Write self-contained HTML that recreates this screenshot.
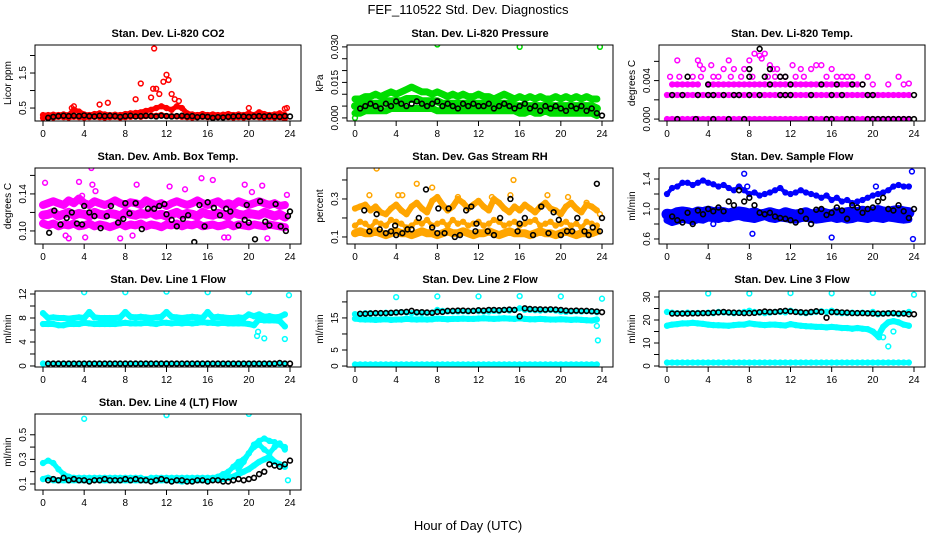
<!DOCTYPE html>
<html><head><meta charset="utf-8">
<style>
html,body{margin:0;padding:0;background:#fff;}
svg{display:block;font-family:"Liberation Sans",sans-serif;}
</style></head>
<body>
<svg id="chart" width="936" height="540" viewBox="0 0 936 540" xmlns="http://www.w3.org/2000/svg">
<rect x="0" y="0" width="936" height="540" fill="#fff"/>
<text x="468" y="14" font-size="13" text-anchor="middle">FEF_110522  Std. Dev. Diagnostics</text>
<text x="468" y="530" font-size="13" text-anchor="middle">Hour of Day (UTC)</text>
</svg>
<script>
const H = [0,0.5,1,1.5,2,2.5,3,3.5,4,4.5,5,5.5,6,6.5,7,7.5,8,8.5,9,9.5,10,10.5,11,11.5,12,12.5,13,13.5,14,14.5,15,15.5,16,16.5,17,17.5,18,18.5,19,19.5,20,20.5,21,21.5,22,22.5,23,23.5];
const HB = [0.5,1,1.5,2,2.5,3,3.5,4,4.5,5,5.5,6,6.5,7,7.5,8,8.5,9,9.5,10,10.5,11,11.5,12,12.5,13,13.5,14,14.5,15,15.5,16,16.5,17,17.5,18,18.5,19,19.5,20,20.5,21,21.5,22,22.5,23,23.5,24];
const xTicks = [0,4,8,12,16,20,24];

// Panel 1 CO2
const p1Red = [0.3,0.3,0.31,0.3,0.32,0.3,0.45,0.4,0.32,0.3,0.33,0.35,0.32,0.3,0.31,0.3,0.33,0.35,0.36,0.38,0.42,0.45,0.5,0.55,0.5,0.45,0.55,0.5,0.35,0.32,0.3,0.33,0.3,0.32,0.3,0.31,0.33,0.3,0.32,0.3,0.35,0.3,0.38,0.33,0.3,0.32,0.35,0.3];
const p1RedLow = [0.22,0.24,0.23,0.25,0.24,0.23,0.25,0.24,0.23,0.24,0.25,0.24,0.23,0.24,0.25,0.23,0.24,0.25,0.26,0.25,0.27,0.28,0.28,0.3,0.27,0.27,0.26,0.25,0.24,0.23,0.24,0.25,0.24,0.23,0.24,0.25,0.24,0.23,0.24,0.23,0.24,0.25,0.24,0.23,0.24,0.23,0.24,0.2];
const p1OutT = [2.8,3,5.5,6.3,9,9.5,10.5,10.7,10.8,11,11.3,11.7,12,12.2,12.5,12.8,13.2,20,23.5,23.7];
const p1OutV = [0.5,0.55,0.6,0.65,0.75,1.2,0.8,1.05,2.2,1.05,0.9,1.25,1.45,1.3,0.9,0.75,0.7,0.5,0.48,0.5];
const p1Black = [0.22,0.25,0.27,0.28,0.27,0.28,0.27,0.29,0.27,0.26,0.28,0.27,0.28,0.27,0.25,0.27,0.28,0.26,0.27,0.28,0.27,0.26,0.28,0.27,0.26,0.27,0.28,0.26,0.27,0.24,0.26,0.25,0.22,0.24,0.23,0.25,0.26,0.27,0.26,0.25,0.26,0.27,0.26,0.27,0.26,0.25,0.27,0.26];
const p1Ticks = [0.5,1,1.5,2];
const p1Labels = ["0.5","","1.5",""];

// Panel 2 pressure
const p2Hi = [0.008,0.008,0.009,0.009,0.01,0.009,0.01,0.011,0.01,0.011,0.012,0.013,0.012,0.011,0.011,0.01,0.011,0.01,0.009,0.01,0.009,0.01,0.009,0.009,0.01,0.009,0.009,0.008,0.009,0.01,0.009,0.008,0.009,0.008,0.009,0.008,0.009,0.008,0.008,0.009,0.008,0.009,0.008,0.009,0.008,0.009,0.008,0.008];
const p2Mid = [0.005,0.005,0.006,0.006,0.006,0.006,0.007,0.007,0.007,0.007,0.008,0.008,0.008,0.007,0.007,0.007,0.007,0.006,0.006,0.006,0.006,0.006,0.006,0.006,0.006,0.006,0.006,0.005,0.006,0.006,0.006,0.005,0.005,0.005,0.005,0.005,0.005,0.005,0.005,0.005,0.005,0.005,0.005,0.005,0.005,0.005,0.005,0.004];
const p2Lo = [0.002,0.002,0.003,0.003,0.003,0.003,0.003,0.004,0.004,0.004,0.004,0.004,0.004,0.004,0.004,0.004,0.003,0.003,0.003,0.003,0.003,0.003,0.003,0.003,0.003,0.003,0.003,0.003,0.003,0.003,0.003,0.003,0.002,0.002,0.003,0.002,0.002,0.003,0.002,0.002,0.002,0.002,0.002,0.002,0.002,0.002,0.002,0.001];
const p2OutT = [0,8,16,23.8];
const p2OutV = [0.0,0.031,0.030,0.030];
const p2Black = [0.004,0.005,0.006,0.005,0.004,0.006,0.005,0.007,0.006,0.005,0.006,0.007,0.006,0.005,0.006,0.007,0.005,0.006,0.005,0.004,0.006,0.005,0.006,0.005,0.005,0.006,0.004,0.005,0.006,0.005,0.004,0.005,0.006,0.004,0.005,0.003,0.005,0.004,0.005,0.004,0.003,0.005,0.004,0.005,0.003,0.004,0.002,0.001];
const p2Ticks = [0,0.005,0.01,0.015,0.02,0.025,0.03];
const p2Labels = ["0.000","","","0.015","","","0.030"];

// Panel 3 Li-820 temp
const p3Row1 = [0,0,0,0,0,0,0,0,0,0,0,0,0,0,0,0,0,0,0,0,0,0,0,0,0,0,0,0,0,0,0,0,0,0,0,0,0,0,0,0,0,0,0,0,0,0,0,0];
const p3Row2 = [0.0025,0.0025,0.0025,0.0025,0.0025,0.0025,0.0025,0.0025,0.0025,0.0025,0.0025,0.0025,0.0025,0.0025,0.0025,0.0025,0.0025,0.0025,0.0025,0.0025,0.0025,0.0025,0.0025,0.0025,0.0025,0.0025,0.0025,0.0025,0.0025,0.0025,0.0025,0.0025,0.0025,0.0025,0.0025,0.0025,0.0025,0.0025,0.0025,0.0025,0.0025,0.0025,0.0025,0.0025,0.0025,0.0025,0.0025,0.0025];
const p3Row3 = [null,0.0036,0.0036,0.0036,0.0036,0.0036,0.0036,null,0.0036,0.0036,0.0036,0.0036,0.0036,0.0036,0.0036,0.0036,0.0036,0.0036,0.0036,0.0036,0.0036,0.0036,0.0036,0.0036,0.0036,0.0036,0.0036,0.0036,0.0036,0.0036,0.0036,0.0036,0.0036,0.0036,0.0036,0.0036,0.0036,0.0036,null,null,null,null,null,null,null,null,null,null];
const p3UpT = [0.3,1,2.5,3,3.2,3.5,4.3,5,5.5,6,6.5,7.5,8,8.5,9,9.2,9.5,10,10.3,10.7,11.5,12.2,13,14,14.5,15,16,17,18,19.5,22.5,23.5,1.2,3.3,4.5,6.2,7.2,8.3,9.8,10.5,11,12.5,13.3,15.5,16.5,17.5,19,20,21.5,23];
const p3UpV = [0.0044,0.0061,0.0044,0.0061,0.0056,0.0052,0.0056,0.0044,0.0052,0.0061,0.0052,0.0052,0.0061,0.0068,0.0066,0.0063,0.0068,0.0056,0.0052,0.0052,0.0044,0.0056,0.0052,0.0052,0.0056,0.0056,0.0052,0.0044,0.0044,0.0044,0.0044,0.0037,0.0044,0.0044,0.0044,0.0044,0.0044,0.0044,0.0044,0.0044,0.0044,0.0044,0.0044,0.0044,0.0044,0.0044,0.0036,0.0036,0.0036,0.0036];
const p3BlkT = [1,2.8,4.5,6,7.5,14,15.5,16,17.5,18,19.5,20,20.5,21,21.5,22,22.5,23,23.5,24,0.5,1.5,3,4,4.5,5.5,6.5,7,8,9,11,11.5,12,14,16,17,19.5,20,24,4,10,12,15,16.5,18,19,2,8,9.5,11.5,11,8,10,9];
const p3BlkV = [0,0,0,0,0,0,0,0,0,0,0,0,0,0,0,0,0,0,0,0,0.0025,0.0025,0.0025,0.0025,0.0025,0.0025,0.0025,0.0025,0.0025,0.0025,0.0025,0.0025,0.0025,0.0025,0.0025,0.0025,0.0025,0.0025,0.0025,0.0036,0.0036,0.0036,0.0036,0.0036,0.0036,0.0036,0.0044,0.0044,0.0044,0.0044,0.0044,0.0052,0.0052,0.0073];
const p3Ticks = [0,0.002,0.004,0.006];
const p3Labels = ["0.000","","0.004",""];

// Panel 4 Amb box temp
const p4Hi = [0.128,0.13,0.132,0.13,0.128,0.133,0.13,0.135,0.13,0.128,0.132,0.13,0.128,0.13,0.133,0.13,0.128,0.131,0.13,0.128,0.133,0.13,0.128,0.13,0.127,0.13,0.132,0.13,0.128,0.13,0.133,0.13,0.128,0.13,0.132,0.128,0.13,0.128,0.132,0.13,0.128,0.13,0.132,0.13,0.128,0.13,0.127,0.128];
const p4Mid = [0.117,0.118,0.12,0.116,0.118,0.12,0.117,0.119,0.118,0.116,0.12,0.118,0.117,0.119,0.118,0.116,0.12,0.118,0.117,0.119,0.118,0.12,0.117,0.118,0.116,0.118,0.12,0.117,0.119,0.118,0.116,0.12,0.118,0.117,0.119,0.118,0.116,0.12,0.118,0.117,0.119,0.118,0.117,0.12,0.118,0.116,0.118,0.115];
const p4Lo = [0.108,0.106,0.108,0.105,0.107,0.106,0.108,0.105,0.106,0.108,0.105,0.107,0.106,0.104,0.106,0.108,0.105,0.107,0.106,0.108,0.105,0.107,0.106,0.104,0.107,0.106,0.108,0.105,0.107,0.106,0.108,0.105,0.106,0.107,0.105,0.106,0.108,0.105,0.107,0.106,0.105,0.107,0.106,0.105,0.107,0.106,0.105,0.104];
const p4OutT = [0.2,2.2,2.5,3.5,4.1,4.7,4.8,5.1,8.7,9.1,12.3,13.8,15.4,16.5,17.6,18,19.6,20.3,21.3,21.8,23.7,7.5,3.8];
const p4OutV = [0.152,0.095,0.092,0.153,0.093,0.168,0.15,0.143,0.095,0.15,0.148,0.145,0.157,0.155,0.093,0.093,0.15,0.142,0.149,0.092,0.139,0.092,0.138];
const p4BlkT = [0.6,1.1,1.7,2.3,2.8,3.3,3.8,4,4.5,5,5.6,6.2,6.6,7.3,7.8,8,8.4,9,9.6,10.2,10.8,11.3,11.8,12,12.5,13,13.6,14.1,14.7,15.2,15.7,16,16.6,17.2,17.8,18.2,19,19.6,19.8,20,20.6,21.1,21.6,22,22.6,23.1,23.6,23.8,24];
const p4BlkV = [0.098,0.122,0.107,0.114,0.12,0.108,0.107,0.127,0.12,0.116,0.103,0.116,0.127,0.109,0.113,0.13,0.119,0.13,0.102,0.124,0.124,0.127,0.129,0.118,0.112,0.105,0.113,0.117,0.088,0.128,0.105,0.131,0.125,0.117,0.124,0.121,0.106,0.112,0.128,0.109,0.091,0.132,0.11,0.106,0.129,0.105,0.1,0.116,0.121];
const p4Ticks = [0.10,0.12,0.14,0.16];
const p4Labels = ["0.10","","0.14",""];

// Panel 5 RH
const p5Lo = [0.12,0.13,0.12,0.12,0.13,0.12,0.11,0.12,0.13,0.12,0.12,0.11,0.12,0.13,0.12,0.12,0.11,0.12,0.13,0.12,0.12,0.13,0.12,0.11,0.12,0.12,0.13,0.12,0.11,0.12,0.13,0.12,0.12,0.12,0.11,0.12,0.13,0.12,0.12,0.11,0.12,0.13,0.12,0.11,0.12,0.12,0.12,0.13];
const p5Mid = [0.16,0.18,0.17,0.15,0.18,0.17,0.16,0.19,0.18,0.17,0.15,0.16,0.18,0.17,0.19,0.16,0.17,0.18,0.16,0.19,0.17,0.18,0.16,0.17,0.18,0.16,0.17,0.19,0.18,0.16,0.17,0.18,0.16,0.17,0.18,0.19,0.16,0.17,0.18,0.16,0.17,0.18,0.16,0.17,0.15,0.18,0.17,0.16];
const p5Hi = [0.25,0.26,0.27,0.24,0.26,0.23,0.22,0.25,0.27,0.24,0.22,0.26,0.28,0.25,0.23,0.29,0.31,0.27,0.24,0.26,0.3,0.28,0.25,0.27,0.29,0.26,0.24,0.3,0.28,0.25,0.23,0.26,0.24,0.27,0.25,0.23,0.26,0.28,0.25,0.24,0.22,0.26,0.28,0.25,0.23,0.27,0.26,0.24];
const p5OutT = [2.1,1.4,4.2,4.6,6,7.5,10,13.3,15.1,15.4,18.7,20.7,22.5,23.8];
const p5OutV = [0.46,0.32,0.32,0.32,0.38,0.36,0.31,0.31,0.32,0.4,0.32,0.31,0.28,0.22];
const p5BlkT = [0.9,1.4,2.1,2.4,3,3.5,3.9,4,4.6,5.1,5.5,6.2,6.9,7.5,8,8.1,8.7,9.1,9.7,10.2,10.8,11.3,11.7,11.8,12.9,13.5,14.1,15.1,15.8,16,16.5,17.3,18.1,18.8,19.3,19.8,20,20.6,21.1,21.6,22.3,22.7,23.1,23.5,23.8,24];
const p5BlkV = [0.24,0.13,0.22,0.14,0.12,0.13,0.16,0.11,0.12,0.14,0.14,0.2,0.35,0.15,0.12,0.25,0.12,0.25,0.1,0.11,0.24,0.26,0.13,0.17,0.13,0.11,0.2,0.3,0.13,0.17,0.2,0.11,0.26,0.12,0.23,0.19,0.11,0.13,0.13,0.2,0.13,0.11,0.15,0.38,0.13,0.2];
const p5Ticks = [0.1,0.2,0.3,0.4];
const p5Labels = ["0.1","","0.3",""];

// Panel 6 Sample flow
const p6Hi = [1.2,1.28,1.3,1.35,1.35,1.32,1.35,1.38,1.35,1.33,1.3,1.32,1.28,1.25,1.3,1.25,1.2,1.22,1.18,1.2,1.22,1.25,1.28,1.22,1.2,1.22,1.25,1.22,1.2,1.18,1.15,1.18,1.12,1.15,1.1,1.12,1.08,1.1,1.12,1.15,1.18,1.2,1.22,1.25,1.3,1.32,1.3,1.3];
const p6Mid = [0.93,0.92,0.95,0.96,0.95,0.93,0.96,0.95,0.97,0.95,0.96,0.95,0.93,0.95,0.96,0.95,0.93,0.95,0.92,0.93,0.95,0.93,0.92,0.95,0.93,0.92,0.93,0.95,0.92,0.93,0.95,0.93,0.92,0.95,0.93,0.95,0.96,0.95,0.97,0.95,0.96,0.98,0.96,0.95,0.97,0.98,0.96,0.95];
const p6Lo = [0.85,0.82,0.84,0.86,0.85,0.83,0.86,0.85,0.88,0.87,0.86,0.88,0.87,0.89,0.9,0.88,0.87,0.86,0.88,0.9,0.87,0.86,0.88,0.87,0.86,0.85,0.87,0.88,0.86,0.85,0.86,0.87,0.88,0.86,0.87,0.85,0.86,0.88,0.87,0.86,0.88,0.87,0.86,0.88,0.87,0.86,0.85,0.86];
const p6OutT = [7.5,7.8,16,20.3,23.8,23.9,8.3,4.5];
const p6OutV = [1.47,1.3,0.62,1.3,1.5,0.6,0.67,0.8];
const p6Black = [0.9,0.85,0.82,0.95,0.8,0.98,0.93,1.0,0.97,1.02,0.97,1.1,1.05,1.25,1.1,1.15,1.05,0.95,0.93,0.95,0.9,0.88,0.87,0.85,0.82,0.97,0.87,0.8,0.99,1.0,0.92,0.95,1.02,0.98,0.87,1.05,1.02,0.95,1.0,1.02,1.1,1.15,1.0,0.98,1.05,0.97,0.88,1.0];
const p6Ticks = [0.6,0.8,1.0,1.2,1.4];
const p6Labels = ["0.6","","1.0","","1.4"];

// Panel 7 Line 1 flow
const p7Hi = [8.8,8,8.1,8,8,7.9,8,8.1,8,9,8.1,8,8,8,8,8.1,9,8.2,8.1,8.2,8.1,8,8.1,8.2,9,8.2,8.1,8,8.1,8.2,8.1,8,9,8.1,8.2,8.1,8,8,8.1,8,8.6,8.3,8.6,8.2,8.3,8.1,8.2,8.6];
const p7Lo = [7,7,7,6.8,6.8,7,7,7,7.2,7.1,7,7,7,7,7,7.1,7.2,7.1,7.1,7.1,7.2,7.1,7,7.2,7.2,7.1,7.2,7.1,7.2,7.1,7.2,7.3,7.2,7.2,7.1,7.2,7.1,7.1,7.1,7.1,7,6.8,7.8,7.6,7.6,7.6,7.5,6.6];
const p7Zero = [0.4,0.4,0.4,0.4,0.4,0.4,0.4,0.4,0.4,0.4,0.4,0.4,0.4,0.4,0.4,0.4,0.4,0.4,0.4,0.4,0.4,0.4,0.4,0.4,0.4,0.4,0.4,0.4,0.4,0.4,0.4,0.4,0.4,0.4,0.4,0.4,0.4,0.4,0.4,0.4,0.4,0.4,0.4,0.4,0.4,0.4,0.4,0.4];
const p7OutT = [4,8,12,16,20,23.9,20.8,20.9,21.5,23.5];
const p7OutV = [12.3,12.3,12.4,12.3,12.3,11.8,5,5.7,4.6,4.5];
const p7Black = [0.4,0.4,0.4,0.4,0.4,0.4,0.4,0.4,0.4,0.4,0.4,0.4,0.4,0.4,0.4,0.4,0.4,0.4,0.4,0.4,0.4,0.4,0.4,0.4,0.4,0.4,0.4,0.4,0.4,0.4,0.4,0.4,0.4,0.4,0.4,0.4,0.4,0.4,0.4,0.4,0.4,0.4,0.4,0.4,0.4,0.5,0.4,0.4];
const p7Ticks = [0,2,4,6,8,10,12];
const p7Labels = ["0","","4","","8","","12"];

// Panel 8 Line 2 flow
const p8Hi = [16.2,16.3,16.5,16.5,16.4,16.5,16.6,16.5,16.7,16.8,16.7,16.5,16.6,16.5,16.6,16.7,17.5,17.2,17,17,17,17.1,17,17.2,17.1,17,17,17.2,17.1,17.5,17.3,17.5,18,17.5,17.5,17.4,17.3,17.4,17.5,17.3,17,16.9,17,17.1,17,17.1,17,16.8];
const p8Lo = [14.8,14.6,14.5,14.5,14.4,14.5,14.6,14.4,14.5,14.5,14.7,14.6,14.5,14.6,14.5,14.6,14.8,14.7,14.6,14.7,14.7,14.8,14.7,14.7,14.8,14.9,14.8,14.7,14.8,14.9,14.8,14.7,14.9,14.7,14.6,14.6,14.7,14.6,14.5,14.5,14.6,14.5,14.4,14.5,14.4,14.3,14.2,14.5];
const p8Zero = [0.5,0.5,0.5,0.5,0.5,0.5,0.5,0.5,0.5,0.5,0.5,0.5,0.5,0.5,0.5,0.5,0.5,0.5,0.5,0.5,0.5,0.5,0.5,0.5,0.5,0.5,0.5,0.5,0.5,0.5,0.5,0.5,0.5,0.5,0.5,0.5,0.5,0.5,0.5,0.5,0.5,0.5,0.5,0.5,0.5,0.5,0.5,0.5];
const p8OutT = [4,8,12,16,20,24,23.5,23.6];
const p8OutV = [21.5,21.7,21.7,21.8,21.7,21,12.5,8];
const p8Black = [16.3,16.3,16.4,16.5,16.5,16.5,16.6,16.7,16.8,16.9,17.2,16.8,16.8,16.7,16.6,16.9,16.9,17.2,17.2,17.3,17.3,17.2,17.2,17.4,17.3,17.5,17.5,17.4,17.5,17.6,17.5,15.5,18,17.8,17.7,17.7,17.6,17.7,17.6,17.5,17.3,17.2,17.3,17.2,17.2,17.1,17,16.8];
const p8Ticks = [0,5,10,15,20];
const p8Labels = ["0","5","","15",""];

// Panel 9 Line 3 flow
const p9Hi = [23.5,23.2,23,23,23.2,23,23.1,23,23.2,23,23.5,23.3,23.2,23,23.2,23.5,24,23.5,23.2,23,23.2,23.5,23.5,23.3,24,23.5,23.2,23,23.3,23.5,23.8,23.5,24,23.2,23,23,23.2,23,23.2,23,23.5,22.5,22.8,23,22.8,22.5,23,23.5];
const p9Lo = [17.5,18,18.2,18.5,18.5,18.8,18.5,18.3,18,17.8,17.7,17.6,17.5,17.8,18,18,18.5,18.2,18,17.8,18,18,17.8,17.6,18.2,17.8,17.5,17.3,17.2,17,17,16.8,17,16.8,16.5,16.5,16.2,16.5,16.2,16,15,13,17,19,19.5,19,18,17.5];
const p9Zero = [1.5,1.5,1.5,1.5,1.5,1.5,1.5,1.5,1.5,1.5,1.5,1.5,1.5,1.5,1.5,1.5,1.5,1.5,1.5,1.5,1.5,1.5,1.5,1.5,1.5,1.5,1.5,1.5,1.5,1.5,1.5,1.5,1.5,1.5,1.5,1.5,1.5,1.5,1.5,1.5,1.5,1.5,1.5,1.5,1.5,1.5,1.5,1.5];
const p9OutT = [4,8,12,16,20,24,20.6,21,21.5,22];
const p9OutV = [31.5,31.5,31.7,31.6,31.8,31,12.5,12.5,8.5,15];
const p9Black = [22.8,22.8,22.8,22.8,22.9,22.9,23,23,23.2,23.3,23.5,23.3,23.2,23.1,23,23,23.1,23.4,23.7,23.5,23.5,23.8,24,23.7,23.5,23.4,23.2,23.5,23.8,23.5,21,23.4,23.5,23.3,23.2,23,23,23,22.9,22.8,22.8,22.8,22.9,23,22.8,22.8,22.5,22.5];
const p9Ticks = [0,5,10,15,20,25,30];
const p9Labels = ["0","","10","","20","","30"];

// Panel 10 Line 4 flow
const p10Base = [0.14,0.15,0.13,0.13,0.13,0.13,0.13,0.13,0.13,0.13,0.14,0.13,0.13,0.13,0.13,0.13,0.13,0.13,0.13,0.13,0.13,0.13,0.13,0.13,0.13,0.13,0.13,0.12,0.13,0.13,0.13,0.13,0.13,0.14,0.14,0.14,0.15,0.16,0.18,0.2,0.22,0.25,0.28,0.3,0.32,0.28,0.26,0.24];
const p10Up = [0.27,0.29,0.27,0.22,0.18,0.16,0.15,0.15,0.15,0.15,0.15,0.15,0.15,0.15,0.15,0.15,0.15,0.15,0.15,0.15,0.14,0.15,0.15,0.15,0.15,0.15,0.15,0.15,0.15,0.15,0.15,0.15,0.15,0.15,0.16,0.18,0.2,0.24,0.28,0.3,0.35,0.42,0.45,0.47,0.45,0.44,0.42,0.4];
const p10Mid = [null,null,null,null,null,null,null,null,null,null,null,null,null,null,null,null,null,null,null,null,null,null,null,null,null,null,null,null,null,null,null,null,null,null,null,null,null,null,0.22,0.28,0.35,0.4,0.42,0.38,0.35,0.4,0.43,0.38];
const p10OutT = [4,12,20,23.8];
const p10OutV = [0.63,0.66,0.67,0.13];
const p10Black = [0.13,0.14,0.13,0.15,0.13,0.14,0.13,0.13,0.12,0.13,0.13,0.14,0.13,0.13,0.13,0.14,0.13,0.14,0.13,0.13,0.12,0.13,0.14,0.13,0.12,0.13,0.13,0.12,0.12,0.13,0.13,0.12,0.13,0.13,0.12,0.12,0.13,0.14,0.13,0.14,0.15,0.18,0.2,0.26,0.25,0.24,0.26,0.29];
const p10Ticks = [0.1,0.2,0.3,0.4,0.5];
const p10Labels = ["0.1","","0.3","","0.5"];

const NS = "http://www.w3.org/2000/svg";
const svg = document.getElementById('chart');
function mk(tag, attrs, parent){ const e=document.createElementNS(NS,tag); for(const k in attrs) e.setAttribute(k,attrs[k]); (parent||svg).appendChild(e); return e; }

const colX=[35,347,659], rowY=[45,168,291,414], BW=266, BH=76;

const panels = [
 {key:'co2', title:'Stan. Dev. Li-820 CO2', ylab:'Licor ppm', c:0,r:0, lo:0.13, hi:2.3, ticks:p1Ticks, labels:p1Labels, color:'#ff0000',
  bands:[[H,p1RedLow,5],[H,p1Red,5]], outs:[[p1OutT,p1OutV]], black:[[HB,p1Black]]},
 {key:'pressure', title:'Stan. Dev. Li-820 Pressure', ylab:'kPa', c:1,r:0, lo:-0.0013, hi:0.0308, ticks:p2Ticks, labels:p2Labels, color:'#00dd00',
  bands:[[H,p2Lo,7],[H,p2Mid,8],[H,p2Hi,7]], outs:[[p2OutT,p2OutV]], black:[[HB,p2Black]]},
 {key:'temp', title:'Stan. Dev. Li-820 Temp.', ylab:'degrees C', c:2,r:0, lo:-0.0002, hi:0.0077, ticks:p3Ticks, labels:p3Labels, color:'#ff00ff',
  bands:[[H,p3Row1,5],[H,p3Row2,5],[H,p3Row3,5]], outs:[[p3UpT,p3UpV]], black:[[p3BlkT,p3BlkV]]},
 {key:'ambbox', title:'Stan. Dev. Amb. Box Temp.', ylab:'degrees C', c:0,r:1, lo:0.0859, hi:0.168, ticks:p4Ticks, labels:p4Labels, color:'#ff00ff',
  bands:[[H,p4Lo,8],[H,p4Mid,9],[H,p4Hi,8]], outs:[[p4OutT,p4OutV]], black:[[p4BlkT,p4BlkV]]},
 {key:'rh', title:'Stan. Dev. Gas Stream RH', ylab:'percent', c:1,r:1, lo:0.063, hi:0.463, ticks:p5Ticks, labels:p5Labels, color:'#ffa500',
  bands:[[H,p5Lo,8],[H,p5Mid,4],[H,p5Hi,6]], outs:[[p5OutT,p5OutV]], black:[[p5BlkT,p5BlkV]]},
 {key:'sampleflow', title:'Stan. Dev. Sample Flow', ylab:'ml/min', c:2,r:1, lo:0.533, hi:1.547, ticks:p6Ticks, labels:p6Labels, color:'#0000ff',
  bands:[[H,p6Lo,7],[H,p6Mid,11],[H,p6Hi,4]], outs:[[p6OutT,p6OutV]], black:[[HB,p6Black]]},
 {key:'line1', title:'Stan. Dev. Line 1 Flow', ylab:'ml/min', c:0,r:2, lo:-0.17, hi:12.5, ticks:p7Ticks, labels:p7Labels, color:'#00ffff',
  bands:[[H,p7Zero,4],[H,p7Lo,6],[H,p7Hi,6]], outs:[[p7OutT,p7OutV]], black:[[HB,p7Black]]},
 {key:'line2', title:'Stan. Dev. Line 2 Flow', ylab:'ml/min', c:1,r:2, lo:-0.3, hi:23.4, ticks:p8Ticks, labels:p8Labels, color:'#00ffff',
  bands:[[H,p8Zero,5],[H,p8Lo,6],[H,p8Hi,4]], outs:[[p8OutT,p8OutV]], black:[[HB,p8Black]]},
 {key:'line3', title:'Stan. Dev. Line 3 Flow', ylab:'ml/min', c:2,r:2, lo:-0.43, hi:32.6, ticks:p9Ticks, labels:p9Labels, color:'#00ffff',
  bands:[[H,p9Zero,5],[H,p9Lo,6],[H,p9Hi,4]], outs:[[p9OutT,p9OutV]], black:[[HB,p9Black]]},
 {key:'line4', title:'Stan. Dev. Line 4 (LT) Flow', ylab:'ml/min', c:0,r:3, lo:0.051, hi:0.669, ticks:p10Ticks, labels:p10Labels, color:'#00ffff',
  bands:[[H,p10Base,6],[H,p10Up,5],[H,p10Mid,5]], outs:[[p10OutT,p10OutV]], black:[[HB,p10Black]]}
];

panels.forEach(p=>{
  const L=colX[p.c], T=rowY[p.r];
  const g=mk('g',{});
  
  
  const xs=t=>L+8+t*(247/24);
  const ys=v=>T+BH-(v-p.lo)/(p.hi-p.lo)*BH;
  const clip=mk('clipPath',{id:'clip-'+p.key},g);
  mk('rect',{x:L,y:T,width:BW,height:BH},clip);
  const dg=mk('g',{'clip-path':'url(#clip-'+p.key+')'},g);
  p.bands.forEach(([ts,vs,w])=>{
    let seg=[];
    const flush=()=>{ if(seg.length>1){ const pl=mk('polyline',{points:seg.join(' '),fill:'none',stroke:p.color,'stroke-width':w,'stroke-linejoin':'round','stroke-linecap':'round'},dg);
      
       } seg=[]; };
    for(let i=0;i<Math.min(ts.length,vs.length);i++){
      if(vs[i]===null){flush();continue;}
      seg.push(xs(ts[i]).toFixed(1)+','+ys(vs[i]).toFixed(1));
      const c=mk('circle',{cx:xs(ts[i]),cy:ys(vs[i]),r:2.4,fill:'none',stroke:p.color,'stroke-width':1.5},dg);
      
      
    }
    flush();
  });
  p.outs.forEach(([ts,vs])=>{
    for(let i=0;i<Math.min(ts.length,vs.length);i++){
      const c=mk('circle',{cx:xs(ts[i]),cy:ys(vs[i]),r:2.4,fill:'none',stroke:p.color,'stroke-width':1.5},dg);
      
      
    }
  });
  p.black.forEach(([ts,vs])=>{
    for(let i=0;i<Math.min(ts.length,vs.length);i++){
      const c=mk('circle',{cx:xs(ts[i]),cy:ys(vs[i]),r:2.4,fill:'none',stroke:'#000','stroke-width':1.6},dg);
      
      
    }
  });
  const box=mk('rect',{x:L,y:T,width:BW,height:BH,fill:'none',stroke:'#000','stroke-width':1},g);
  
  
  const tt=mk('text',{x:L+BW/2,y:T-8,'font-size':11,'font-weight':'bold','text-anchor':'middle'},g);
  tt.textContent=p.title;
  
  
  xTicks.forEach(t=>{
    mk('line',{x1:xs(t),x2:xs(t),y1:T+BH,y2:T+BH+5,stroke:'#000'},g);
    const tx=mk('text',{x:xs(t),y:T+BH+16,'font-size':10,'text-anchor':'middle'},g);
    tx.textContent=t;
    
    
  });
  p.ticks.forEach((v,i)=>{
    const y=ys(v);
    mk('line',{x1:L-5,x2:L,y1:y,y2:y,stroke:'#000'},g);
    if(p.labels[i]){
      const tx=mk('text',{x:0,y:0,'font-size':10,'text-anchor':'middle',transform:'translate('+(L-9)+','+y+') rotate(-90)'},g);
      tx.textContent=p.labels[i];
      
      
    }
  });
  const yl=mk('text',{x:0,y:0,'font-size':10,'text-anchor':'middle',transform:'translate('+(L-24)+','+(T+BH/2)+') rotate(-90)'},g);
  yl.textContent=p.ylab;
  
  
});
</script>
</body></html>
